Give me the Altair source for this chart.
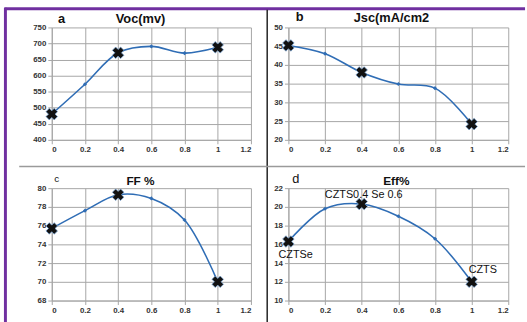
import altair as alt
import pandas as pd

# ---- data ----
x_vals = [0, 0.2, 0.4, 0.6, 0.8, 1.0]
voc = [480, 573, 671, 691, 670, 688]
jsc = [45.2, 43.0, 38.0, 34.9, 33.8, 24.2]
ff = [75.7, 77.6, 79.3, 78.9, 76.6, 70.0]
eff = [16.3, 19.8, 20.3, 19.0, 16.6, 12.0]
marked_x = [0, 0.4, 1.0]
x_ticks = [0, 0.2, 0.4, 0.6, 0.8, 1.0, 1.2]
ann_text = ["CZTSe", "CZTS0.4 Se 0.6", "CZTS"]
ann_x = [0, 0.4, 1.0]

BLUE = "#2F6DB5"
PURPLE = "#7030A0"
FONT = "Liberation Sans"


def panel(values, ydomain, yticks, title, title_x, title_y, title_size,
          letter, letter_x, letter_y, letter_size, letter_weight):
    df = pd.DataFrame({"x": x_vals, "y": values,
                       "marked": [v in marked_x for v in x_vals]})
    base = alt.Chart(df)
    xenc = alt.X("x:Q", scale=alt.Scale(domain=[0, 1.2], nice=False, zero=False),
                 axis=alt.Axis(values=x_ticks, tickCount=30, format="~r", title=None, labelOverlap=False))
    yenc = alt.Y("y:Q", scale=alt.Scale(domain=ydomain, nice=False, zero=False),
                 axis=alt.Axis(values=yticks, tickCount=30, format="d", title=None, labelOverlap=False))
    line = base.mark_line(interpolate="catmull-rom", color=BLUE, strokeWidth=1.6).encode(x=xenc, y=yenc)
    pts = base.mark_point(shape="diamond", filled=True, size=18, color=BLUE, opacity=1).encode(x="x:Q", y="y:Q")
    xs = base.transform_filter("datum.marked").mark_point(
        shape="cross", angle=45, filled=True, size=140, fill="#111", stroke="#7aa6d6",
        strokeWidth=0.7, opacity=1).encode(x="x:Q", y="y:Q")
    tdf = pd.DataFrame({"t": [title], "l": [letter]})
    ttl = alt.Chart(tdf).mark_text(font=FONT, fontSize=title_size, fontWeight="bold", color="#111",
                                   align="center", baseline="middle").encode(
        x=alt.value(title_x), y=alt.value(title_y), text="t:N")
    let = alt.Chart(tdf).mark_text(font=FONT, fontSize=letter_size, fontWeight=letter_weight, color="#111",
                                   align="center", baseline="middle").encode(
        x=alt.value(letter_x), y=alt.value(letter_y), text="l:N")
    return [line, pts, xs, ttl, let]


# panel a with page decorations
la = panel(voc, [400, 750], list(range(400, 751, 50)), "Voc(mv)", 90, -9, 13,
           "a", 10, -9, 13, "bold")
dec = pd.DataFrame({"d": [0]})
frame_top = alt.Chart(dec).mark_rule(color=PURPLE, strokeWidth=3).encode(
    x=alt.value(-48), x2=alt.value(480), y=alt.value(-19))
frame_left = alt.Chart(dec).mark_rule(color=PURPLE, strokeWidth=3).encode(
    x=alt.value(-47), y=alt.value(-20), y2=alt.value(300))
vdiv = alt.Chart(dec).mark_rule(color="#222", strokeWidth=1.5).encode(
    x=alt.value(218.5), y=alt.value(-18), y2=alt.value(300))
hdiv = alt.Chart(dec).mark_rule(color="#9a9a9a", strokeWidth=1.5).encode(
    x=alt.value(-33), x2=alt.value(480), y=alt.value(141))
chart_a = alt.layer(frame_top, frame_left, vdiv, hdiv, *la).properties(width=202, height=114)

lb = panel(jsc, [20, 50], list(range(20, 51, 5)), "Jsc(mA/cm2", 104.5, -10, 13,
           "b", 11.5, -11, 13, "bold")
chart_b = alt.layer(*lb).properties(width=223, height=114)

lc = panel(ff, [68, 80], list(range(68, 81, 2)), "FF %", 90, -7, 12,
           "c", 5, -9, 10, "normal")
chart_c = alt.layer(*lc).properties(width=202, height=114)

ld = panel(eff, [10, 22], list(range(10, 23, 2)), "Eff%", 109.5, -7, 12,
           "d", 7.5, -9, 13, "normal")
ann_df = pd.DataFrame({"x": ann_x, "label": ann_text,
                       "y": [eff[x_vals.index(v)] for v in ann_x]})
ann_base = alt.Chart(ann_df)
a1 = ann_base.transform_filter(alt.datum.label == ann_text[0]).mark_text(
    font=FONT, fontSize=11, color="#111", align="left", baseline="middle", dx=-10, dy=14).encode(
    x="x:Q", y="y:Q", text="label:N")
a2 = ann_base.transform_filter(alt.datum.label == ann_text[1]).mark_text(
    font=FONT, fontSize=11, color="#111", align="center", baseline="middle", dx=2, dy=-9).encode(
    x="x:Q", y="y:Q", text="label:N")
a3 = ann_base.transform_filter(alt.datum.label == ann_text[2]).mark_text(
    font=FONT, fontSize=11, color="#111", align="left", baseline="middle", dx=-3, dy=-12).encode(
    x="x:Q", y="y:Q", text="label:N")
chart_d = alt.layer(*ld, a1, a2, a3).properties(width=223, height=114)

chart = alt.ConcatChart(
    concat=[chart_a, chart_b, chart_c, chart_d], columns=2,
    spacing={"row": 49, "column": 38}, bounds="flush", align="each",
).properties(
    padding={"left": 2.5, "top": 3.5, "right": 0, "bottom": 0},
    background="white",
).configure_view(strokeWidth=0).configure_axis(
    labelFont=FONT, labelFontSize=8, labelFontWeight="bold", labelColor="#333",
    gridColor="#A6A6A6", gridWidth=1, domainColor="#A6A6A6", tickColor="#A6A6A6",
    tickSize=4, labelPadding=2,
)

chart.save("out.html", embed_options={"renderer": "svg", "actions": False})
